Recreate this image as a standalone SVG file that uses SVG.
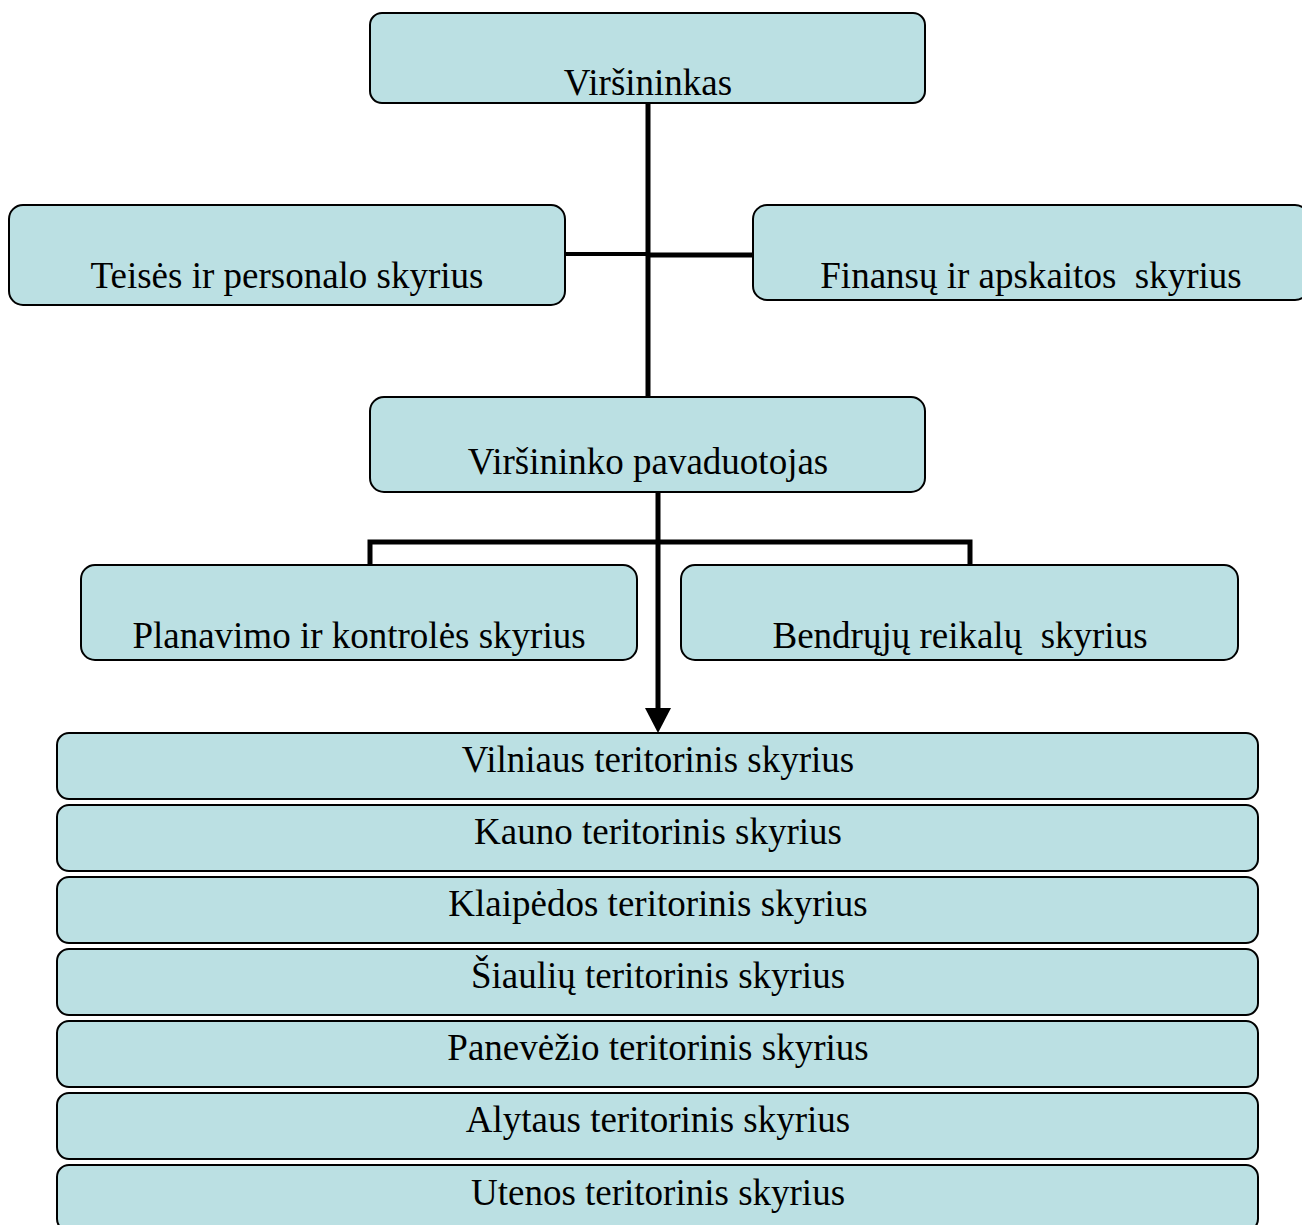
<svg xmlns="http://www.w3.org/2000/svg" width="1302" height="1225" viewBox="0 0 1302 1225">
<style>
.box{fill:#BBE0E3;stroke:#000;stroke-width:2}
.t{font-family:"Liberation Serif","Times New Roman",serif;font-size:37px;fill:#000;text-anchor:middle;white-space:pre}
.c{stroke:#000;stroke-width:5;fill:none}
</style>
<defs>
<marker id="ah" markerWidth="6" markerHeight="6" refX="5" refY="3" orient="auto" markerUnits="strokeWidth">
<path d="M0,0 L5,3 L0,6 Z" fill="#000"/>
</marker>
</defs>
<rect width="1302" height="1225" fill="#fff"/>
<g id="connectors">
<line class="c" x1="648" y1="103" x2="648" y2="397"/>
<line class="c" x1="565" y1="254" x2="648" y2="254" style="stroke-width:4"/>
<line class="c" x1="648" y1="255" x2="753" y2="255"/>
<line class="c" x1="658" y1="492" x2="658" y2="712"/>
<polygon points="645,708 671,708 658,733" fill="#000"/>
<polyline class="c" points="370,565 370,542 970,542 970,565"/>
</g>
<g id="n1"><rect class="box" x="370" y="13" width="555" height="90" rx="12"/><text class="t" x="648" y="95">Viršininkas</text></g>
<g id="n2"><rect class="box" x="9" y="205" width="556" height="100" rx="14"/><text class="t" x="287" y="288">Teisės ir personalo skyrius</text></g>
<g id="n3"><rect class="box" x="753" y="205" width="556" height="95" rx="14"/><text class="t" x="1031" y="288">Finansų ir apskaitos  skyrius</text></g>
<g id="n4"><rect class="box" x="370" y="397" width="555" height="95" rx="14"/><text class="t" x="648" y="474">Viršininko pavaduotojas</text></g>
<g id="n5"><rect class="box" x="81" y="565" width="556" height="95" rx="14"/><text class="t" x="359" y="648">Planavimo ir kontrolės skyrius</text></g>
<g id="n6"><rect class="box" x="681" y="565" width="557" height="95" rx="14"/><text class="t" x="960" y="648">Bendrųjų reikalų  skyrius</text></g>
<g id="n7"><rect class="box" x="57" y="733" width="1201" height="66" rx="12"/><text class="t" x="658" y="772">Vilniaus teritorinis skyrius</text></g>
<g id="n8"><rect class="box" x="57" y="805" width="1201" height="66" rx="12"/><text class="t" x="658" y="844">Kauno teritorinis skyrius</text></g>
<g id="n9"><rect class="box" x="57" y="877" width="1201" height="66" rx="12"/><text class="t" x="658" y="916">Klaipėdos teritorinis skyrius</text></g>
<g id="n10"><rect class="box" x="57" y="949" width="1201" height="66" rx="12"/><text class="t" x="658" y="988">Šiaulių teritorinis skyrius</text></g>
<g id="n11"><rect class="box" x="57" y="1021" width="1201" height="66" rx="12"/><text class="t" x="658" y="1060">Panevėžio teritorinis skyrius</text></g>
<g id="n12"><rect class="box" x="57" y="1093" width="1201" height="66" rx="12"/><text class="t" x="658" y="1132">Alytaus teritorinis skyrius</text></g>
<g id="n13"><rect class="box" x="57" y="1165" width="1201" height="66" rx="12"/><text class="t" x="658" y="1205">Utenos teritorinis skyrius</text></g>
</svg>
